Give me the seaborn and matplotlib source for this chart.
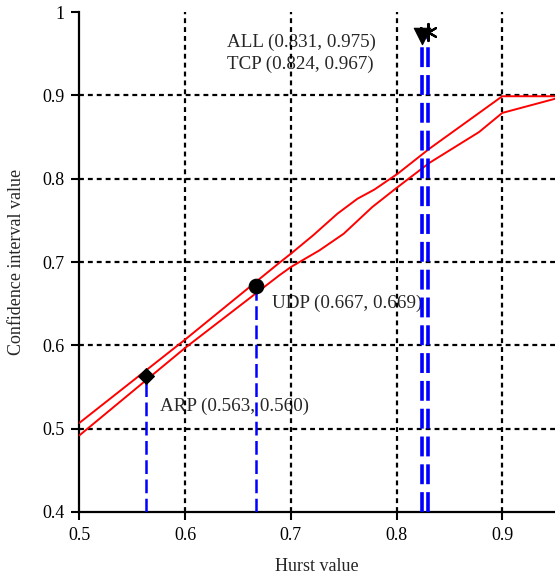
import matplotlib
matplotlib.use("Agg")
import matplotlib.pyplot as plt
import seaborn as sns
import pandas as pd

# confidence interval bounds
upper_x = [0.50, 0.60, 0.689, 0.700, 0.721, 0.744, 0.763, 0.779, 0.801, 0.831, 0.900, 0.950]
upper_y = [0.507, 0.607, 0.699, 0.710, 0.732, 0.758, 0.776, 0.787, 0.806, 0.836, 0.899, 0.899]
lower_x = [0.50, 0.60, 0.689, 0.700, 0.727, 0.750, 0.777, 0.799, 0.831, 0.878, 0.900, 0.950]
lower_y = [0.492, 0.597, 0.684, 0.694, 0.714, 0.734, 0.766, 0.788, 0.819, 0.856, 0.879, 0.896]

# protocol points
protocols = ["ARP", "UDP", "TCP", "ALL"]
hurst = [0.563, 0.667, 0.824, 0.830]
conf = [0.563, 0.671, 0.971, 0.976]
labels = ["ARP (0.563, 0.560)", "UDP (0.667, 0.669)", "TCP (0.824, 0.967)", "ALL (0.831, 0.975)"]
markers = ["D", "o", "v", (6, 2, 0)]
label_pos = [(0.576, 0.527), (0.6825, 0.651), (0.640, 0.937), (0.640, 0.9635)]

x_ticks = [0.5, 0.6, 0.7, 0.8, 0.9]
y_ticks = [0.4, 0.5, 0.6, 0.7, 0.8, 0.9, 1.0]

sns.set_theme(style="white")
plt.rcParams["font.family"] = ["Liberation Serif", "DejaVu Serif"]

fig = plt.figure(figsize=(5.55, 5.77), dpi=100)
ax = fig.add_axes([0.1432, 0.1127, 0.857, 0.8663])

# dotted grid, drawn by hand so the top/left edges stay clear
for xv in x_ticks[1:]:
    ax.axvline(xv, color="black", lw=1.6, ls=(0, (2.2, 1.8)), zorder=2)
for yv in y_ticks[1:-1]:
    ax.axhline(yv, color="black", lw=1.6, ls=(0, (2.2, 1.8)), zorder=2)

bounds = pd.concat([
    pd.DataFrame({"x": upper_x, "y": upper_y, "b": "upper"}),
    pd.DataFrame({"x": lower_x, "y": lower_y, "b": "lower"}),
])
sns.lineplot(data=bounds, x="x", y="y", units="b", estimator=None, sort=False,
             color="red", lw=1.4, ax=ax, zorder=3)

# blue dashed drops to the x axis
for h, c, p in zip(hurst, conf, protocols):
    lw = 2.6 if p in ("TCP", "ALL") else 1.8
    ax.plot([h, h], [0.4, c], color="blue", lw=lw, ls=(0, (5.5, 2.2)), zorder=4)

pts = pd.DataFrame({"h": hurst, "c": conf, "p": protocols})
sizes = {"ARP": 65, "UDP": 110, "TCP": 140, "ALL": 150}
for p, m in zip(protocols, markers):
    sub = pts[pts["p"] == p]
    sns.scatterplot(data=sub, x="h", y="c", marker=m, s=sizes[p], color="black",
                    edgecolor="black", linewidth=1.6 if p == "ALL" else 0.8,
                    ax=ax, zorder=5, legend=False)

# labels sit under the grid, as in the reference
for (tx, ty), lab in zip(label_pos, labels):
    ax.text(tx, ty, lab, fontsize=13.7, va="center", ha="left", zorder=1)

ax.set_xlim(0.5, 0.95)
ax.set_ylim(0.4, 1.0)
ax.set_xticks(x_ticks)
ax.set_yticks(y_ticks)
ax.set_xticklabels(["0.5", "0.6", "0.7", "0.8", "0.9"])
ax.set_yticklabels(["0.4", "0.5", "0.6", "0.7", "0.8", "0.9", "1"])
ax.tick_params(axis="both", direction="out", length=6, width=1.5, labelsize=13,
               left=True, bottom=True, colors="black", pad=5)
ax.set_xlabel("Hurst value", fontsize=13, labelpad=10)
ax.set_ylabel("Confidence interval value", fontsize=13, labelpad=12)

for side in ("top", "right"):
    ax.spines[side].set_visible(False)
for side in ("left", "bottom"):
    ax.spines[side].set_color("black")
    ax.spines[side].set_linewidth(1.6)

fig.savefig("out.png", dpi=100, facecolor="white")
